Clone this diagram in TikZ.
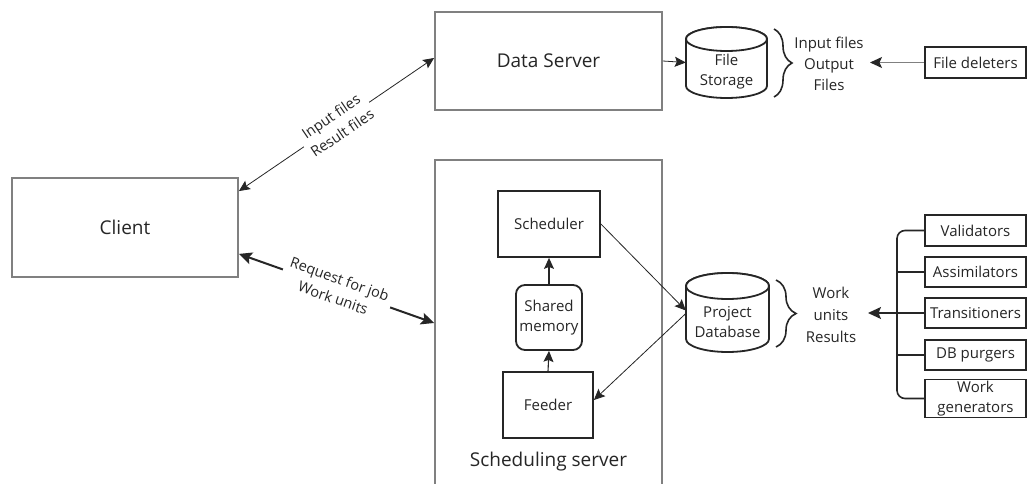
\documentclass[tikz,border=0pt]{standalone}
\usepackage{fontspec}
\setmainfont{Open Sans}
\usetikzlibrary{arrows.meta,decorations.pathreplacing,calc}
\definecolor{graybd}{HTML}{808080}
\definecolor{ink}{HTML}{262626}
\begin{document}
\begin{tikzpicture}[x=1pt,y=1pt,
  big/.style={font=\fontsize{19}{23}\selectfont, text=ink},
  small/.style={font=\fontsize{15}{20}\selectfont, text=ink},
  graybox/.style={draw=graybd, line width=1.8pt, fill=white, inner sep=0pt},
  blkbox/.style={draw=ink, line width=1.8pt, fill=white, inner sep=0pt},
  ghost/.style={inner sep=0pt},
  tipS/.tip={Stealth[length=11pt,width=10pt,inset=2pt]},
  tipL/.tip={Stealth[length=13pt,width=12pt,inset=2.5pt]},
  thinarr/.style={draw=ink, line width=0.8pt},
  medarr/.style={draw=ink, line width=1.1pt},
  thickarr/.style={draw=ink, line width=2pt},
  lbl/.style={sloped, fill=white, inner sep=3pt, align=center, font=\fontsize{14.5}{20}\selectfont, text=ink},
  bracestyle/.style={draw=ink, line width=1.6pt, decorate, decoration={brace, amplitude=18pt}},
  cyl/.style={draw=ink, line width=1.8pt, fill=white}
]
\clip (0,0) rectangle (1027,-484);
\fill[white] (0,0) rectangle (1027,-484);

% main boxes
\node[graybox, big, minimum width=227pt, minimum height=98pt] (ds) at (548.5,-61) {Data Server};
\node[graybox, big, minimum width=226pt, minimum height=99pt] (client) at (125,-227.5) {Client};
\node[graybox, minimum width=227pt, minimum height=340pt] (ss) at (548.5,-330) {};
\node[big] (sslbl) at (548.5,-462) {Scheduling server};

\node[blkbox, small, minimum width=102pt, minimum height=66pt] (sched) at (549,-224) {Scheduler};
\node[blkbox, small, rounded corners=9pt, minimum width=66pt, minimum height=65pt, align=center] (shm) at (549,-317.5) {Shared\\memory};
\node[blkbox, small, minimum width=90pt, minimum height=66pt] (feeder) at (548,-405) {Feeder};

% file storage cylinder
\path[cyl] (686,-39) -- (686,-86) arc[start angle=180,end angle=360,x radius=40.5,y radius=12] -- (767,-39) arc[start angle=0,end angle=180,x radius=40.5,y radius=12] -- cycle;
\draw[cyl] (726.5,-39) ellipse[x radius=40.5,y radius=12];
\node[ghost, minimum width=81pt, minimum height=71pt] (fs) at (726.5,-62.5) {};
\node[small, align=center] (fstxt) at (726.5,-72) {File\\Storage};

% project database cylinder
\path[cyl] (686,-286) -- (686,-339) arc[start angle=180,end angle=360,x radius=41.5,y radius=13] -- (769,-286) arc[start angle=0,end angle=180,x radius=41.5,y radius=13] -- cycle;
\draw[cyl] (727.5,-286) ellipse[x radius=41.5,y radius=13];
\node[ghost, minimum width=83pt, minimum height=79pt] (pd) at (727.5,-312.5) {};
\node[small, align=center] (pdtxt) at (727.5,-322) {Project\\Database};

% right side
\node[blkbox, small, minimum width=101pt, minimum height=31pt] (fd) at (975.5,-62.5) {File deleters};
\node[small, align=center, font=\fontsize{15}{21}\selectfont] (iof) at (829,-64) {Input files\\Output\\Files};
\node[small, align=center, font=\fontsize{15}{22}\selectfont] (wur) at (831,-315) {Work\\units\\Results};

\node[blkbox, small, minimum width=101pt, minimum height=31pt] (val) at (975.5,-230.5) {Validators};
\node[blkbox, small, minimum width=101pt, minimum height=30pt] (asm) at (975.5,-272) {Assimilators};
\node[blkbox, small, minimum width=101pt, minimum height=30pt] (trn) at (975.5,-313) {Transitioners};
\node[blkbox, small, minimum width=101pt, minimum height=30pt] (dbp) at (975.5,-355) {DB purgers};
\node[blkbox, small, minimum width=101pt, minimum height=38pt, align=center, font=\fontsize{15}{20}\selectfont] (wg) at (975.5,-398.5) {Work\\generators};

\coordinate (fdtip) at (870,-62.5);
\coordinate (treetip) at (868,-313);

% braces
\draw[bracestyle] (774,-29) -- (774,-97);
\draw[bracestyle, decoration={brace, amplitude=20pt}] (776,-280) -- (776,-347);

% connectors
\draw[thinarr, -tipS] (ds.east) -- (fs.west);
\draw[draw=graybd, line width=1.3pt, -{Stealth[length=12pt,width=11pt,inset=2.5pt,color=ink]}] (fd.west) -- (fdtip);

\draw[thinarr, tipS-tipS] ([yshift=-14pt]client.north east) -- node[lbl] {Input files\\Result files} ([yshift=3pt]ds.west);
\draw[thickarr, tipL-tipL] ([yshift=24pt]client.south east) -- node[lbl, inner sep=5pt] {Request for job\\Work units} ([yshift=7pt]ss.west);

\draw[thinarr, -tipS] (sched.east) -- ([yshift=2pt]pd.west);
\draw[thinarr, -tipS] ([yshift=-1pt]pd.west) -- ([yshift=5pt]feeder.east);
\draw[medarr, -tipS] (feeder.north) -- (shm.south);
\draw[medarr, -tipS] (shm.north) -- (sched.south);

% tree
\draw[draw=ink, line width=1.6pt, rounded corners=8pt] (val.west) -- (897,-230.5) -- (897,-398.5) -- (wg.west);
\draw[draw=ink, line width=1.6pt] (asm.west) -- (897,-272);
\draw[draw=ink, line width=1.6pt] (dbp.west) -- (897,-355);
\draw[draw=ink, line width=1.6pt, -tipL] (trn.west) -- (treetip);
\end{tikzpicture}
\end{document}
